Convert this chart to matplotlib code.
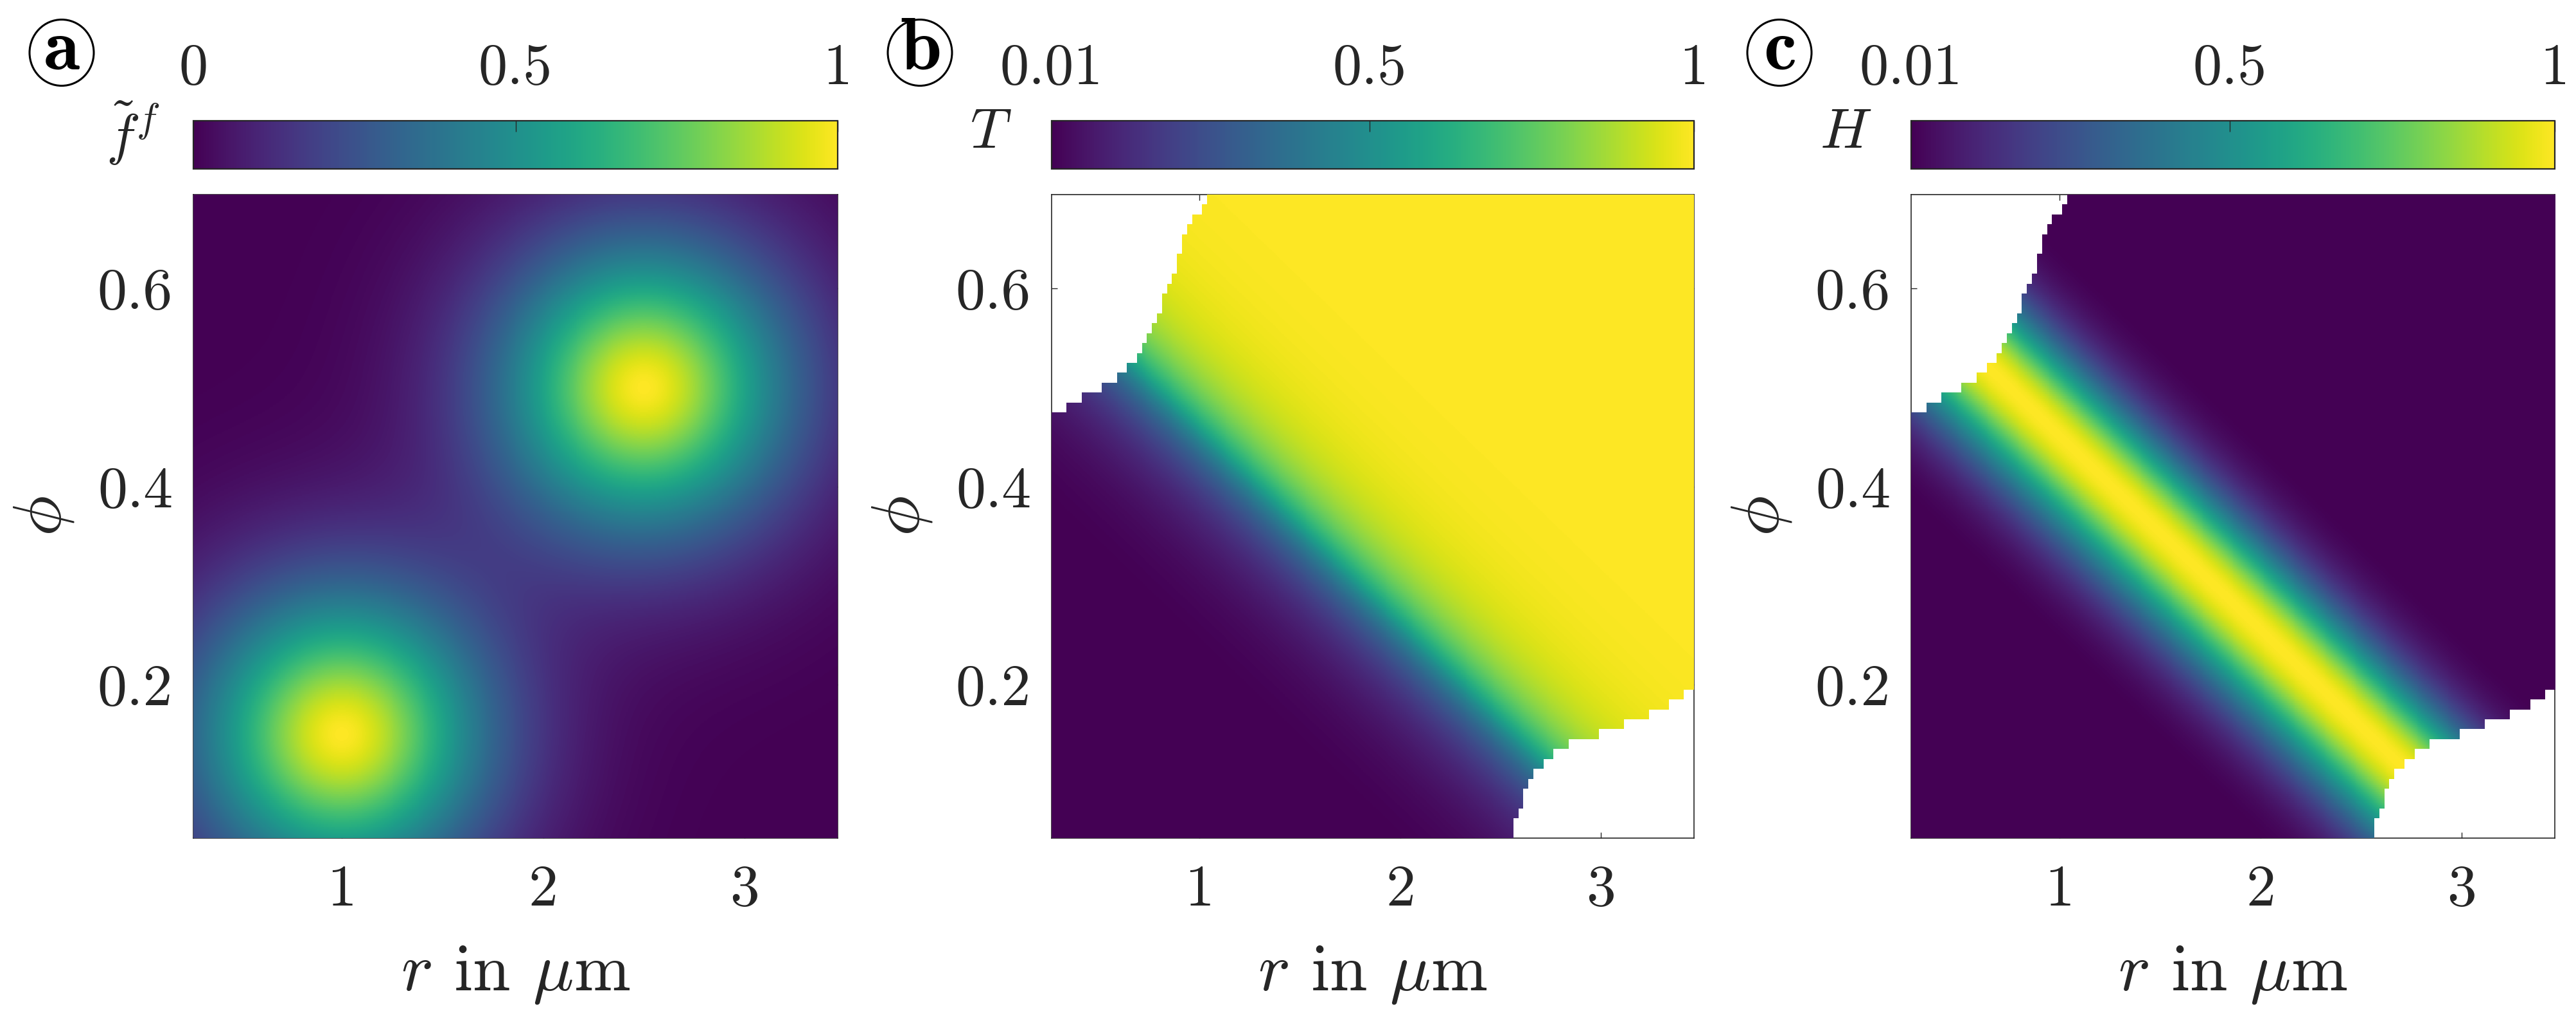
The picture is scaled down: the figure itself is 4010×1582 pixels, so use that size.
import numpy as np
import matplotlib
matplotlib.use("Agg")
import matplotlib.pyplot as plt
from matplotlib.patches import Ellipse

plt.rcParams['font.family'] = 'cmr10'
plt.rcParams['mathtext.fontset'] = 'cm'
plt.rcParams['axes.formatter.use_mathtext'] = True

W, H = 4010, 1582
DPI = 100
INK = '#262626'

# cell centres of the computed maps
r_grid = 0.275 + 0.025 * np.arange(128)      # r in um
phi_grid = 0.05 + 0.01 * np.arange(65)
dr, dphi = 0.025, 0.01

# (a) two bumps of the target distribution
bump_r = [1.0, 2.5]
bump_phi = [0.15, 0.5]
bump_wr = [0.70, 0.70]
bump_wphi = [0.142, 0.142]
bump_shape = 1.8

# (b), (c) line where T = 0.5 / H is largest, and widths (in r) below / above it
band_r = [0.65, 2.69]
band_phi = [0.52, 0.12]
t_decay = [0.29, 0.27]
h_width = [0.50, 0.45]

# region without solution: upper left, first valid r for each phi row
ul_phi = [0.48, 0.49, 0.50, 0.51, 0.52, 0.53, 0.54, 0.55, 0.56, 0.57, 0.58,
          0.59, 0.60, 0.61, 0.62, 0.63, 0.64, 0.65, 0.66, 0.67, 0.68, 0.69]
ul_rmin = [0.35, 0.425, 0.525, 0.60, 0.65, 0.70, 0.725, 0.75, 0.775, 0.80, 0.825,
           0.825, 0.85, 0.875, 0.90, 0.90, 0.925, 0.925, 0.95, 0.975, 1.025, 1.05]
# lower right, last valid r for each phi row
lr_phi = [0.05, 0.06, 0.07, 0.08, 0.09, 0.10, 0.11, 0.12, 0.13, 0.14, 0.15,
          0.16, 0.17, 0.18, 0.19]
lr_rmax = [2.55, 2.55, 2.575, 2.60, 2.60, 2.625, 2.65, 2.70, 2.75, 2.825, 2.975,
           3.10, 3.225, 3.325, 3.40]

cbar_ticks = [[0, 0.5, 1], [0.01, 0.5, 1], [0.01, 0.5, 1]]
cbar_ticklabels = [['0', '0.5', '1'], ['0.01', '0.5', '1'], ['0.01', '0.5', '1']]
cbar_labels = [r'$\tilde{f}^f$', r'$T$', r'$H$']
letters = ['a', 'b', 'c']


def fine_field():
    sub_r, sub_p = 8, 10
    r_lo = r_grid[0] - dr / 2
    p_lo = phi_grid[0] - dphi / 2
    rf = r_lo + (np.arange(len(r_grid) * sub_r) + 0.5) * dr / sub_r
    pf = p_lo + (np.arange(len(phi_grid) * sub_p) + 0.5) * dphi / sub_p
    R, P = np.meshgrid(rf, pf)

    f = np.zeros_like(R)
    for rc, pc, wr, wp in zip(bump_r, bump_phi, bump_wr, bump_wphi):
        dist = np.sqrt(((R - rc) / wr) ** 2 + ((P - pc) / wp) ** 2)
        f += np.exp(-dist ** bump_shape)
    f = np.clip(f, 0, 1)

    slope = (band_r[1] - band_r[0]) / (band_phi[1] - band_phi[0])
    d = R - (band_r[0] + (P - band_phi[0]) * slope)
    lo = d < 0
    T = np.where(lo, 0.5 * np.exp(np.minimum(d, 0) / t_decay[0]),
                 1 - 0.5 * np.exp(-np.maximum(d, 0) / t_decay[1]))
    Hs = np.exp(-(d / np.where(lo, h_width[0], h_width[1])) ** 2)

    mask = np.zeros((len(phi_grid), len(r_grid)), dtype=bool)
    for p, rmin in zip(ul_phi, ul_rmin):
        j = int(round((p - phi_grid[0]) / dphi))
        mask[j, r_grid < rmin - 1e-9] = True
    for p, rmax in zip(lr_phi, lr_rmax):
        j = int(round((p - phi_grid[0]) / dphi))
        mask[j, r_grid > rmax + 1e-9] = True
    mask = np.repeat(np.repeat(mask, sub_p, axis=0), sub_r, axis=1)

    T = np.ma.masked_array(T, mask)
    Hs = np.ma.masked_array(Hs, mask)
    return f, T, Hs


def px_axes(fig, x0, x1, y0, y1):
    return fig.add_axes([x0 / W, 1 - y1 / H, (x1 - x0) / W, (y1 - y0) / H])


fig = plt.figure(figsize=(W / DPI, H / DPI), dpi=DPI)

fields = fine_field()
lims = [(0, 1), (0.01, 1), (0.01, 1)]
ax_x = [(301, 1304), (1637, 2637), (2975, 3977)]
extent = [r_grid[0] - dr / 2, r_grid[-1] + dr / 2,
          phi_grid[0] - dphi / 2, phi_grid[-1] + dphi / 2]

for k in range(3):
    x0, x1 = ax_x[k]
    ax = px_axes(fig, x0, x1, 303, 1305)
    cax = px_axes(fig, x0, x1, 188, 263)

    im = ax.imshow(fields[k], origin='lower', extent=extent, aspect='auto',
                   cmap='viridis', vmin=lims[k][0], vmax=lims[k][1],
                   interpolation='nearest', zorder=3)
    ax.set_xlim(extent[0], extent[1])
    ax.set_ylim(extent[2], extent[3])
    ax.set_xticks([1, 2, 3])
    ax.set_xticklabels(['1', '2', '3'])
    ax.set_yticks([0.2, 0.4, 0.6])
    ax.set_yticklabels(['0.2', '0.4', '0.6'])
    ax.tick_params(direction='in', length=6.5, width=1.0, top=True, right=True,
                   labelsize=66, colors=INK)
    ax.tick_params(axis='x', pad=30)
    ax.tick_params(axis='y', pad=23)
    for s in ax.spines.values():
        s.set_linewidth(1.2)
        s.set_color(INK)
    ax.set_xlabel(r'$r$ in $\mu$m', fontsize=76, color=INK, labelpad=30)
    ax.set_ylabel(r'$\phi$', fontsize=76, color=INK, labelpad=24)

    cb = fig.colorbar(im, cax=cax, orientation='horizontal', ticklocation='top')
    cb.set_ticks(cbar_ticks[k])
    cb.set_ticklabels(cbar_ticklabels[k])
    cax.tick_params(direction='in', length=12, width=1.0, labelsize=65,
                    colors=INK, pad=28)
    cb.outline.set_linewidth(1.6)
    cb.outline.set_edgecolor(INK)

    gap = 52 if k == 0 else 62
    fig.text((x0 - gap) / W, 1 - 207 / H, cbar_labels[k], fontsize=64,
             color=INK, ha='right', va='center')

    cx = x0 - 205
    fig.text(cx / W, 1 - 108 / H, r'$\mathbf{%s}$' % letters[k], fontsize=83,
             color='black', ha='center', va='baseline')
    fig.patches.append(Ellipse((cx / W, 1 - 82 / H), 100 / W, 103 / H,
                               transform=fig.transFigure, fill=False,
                               lw=2.2, color='black'))

fig.savefig('out.png', dpi=DPI)
